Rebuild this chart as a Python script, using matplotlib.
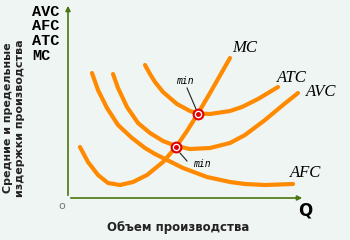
import numpy as np
from matplotlib import pyplot as plt

# curves (Q, cost)
mc_q = [12, 20, 30, 40, 52, 65, 79, 95, 108, 119, 130, 142, 162]
mc_c = [51, 36, 23, 15, 13, 16, 23, 36, 51, 67, 84.5, 105, 140]

afc_q = [24, 30, 39, 50, 64, 77, 87, 95, 115, 139, 162, 177, 197, 225]
afc_c = [125, 108, 90, 73, 60, 50, 44, 40, 30, 21, 16, 14, 13, 14]

avc_q = [45, 50, 59, 70, 82, 95, 108, 122, 142, 162, 177, 197, 215, 230]
avc_c = [124, 110, 91, 75, 65, 57, 52, 49, 50, 55, 63, 78, 93, 105]

atc_q = [77, 82, 87, 95, 109, 122, 130, 142, 162, 174, 190, 210]
atc_c = [133, 124, 116, 106, 94, 87, 84.5, 84, 87, 91, 99, 111]

min_q = [130, 108]
min_c = [84.5, 51]

left_labels = ["AVC", "AFC", "ATC", "MC"]

orange = "#ff8a00"
axis_col = "#4a7510"
bg = "#eff5f3"

fig = plt.figure(figsize=(3.5, 2.4), dpi=100)
fig.patch.set_facecolor(bg)
ax = fig.add_axes([0, 0, 1, 1])
ax.set_facecolor(bg)
ax.set_xlim(-68, 282)
ax.set_ylim(-42, 198)
ax.axis("off")

# axes with arrows
ax.annotate("", xy=(0, 195), xytext=(0, 0),
            arrowprops=dict(arrowstyle="-|>", color=axis_col, lw=1.2, mutation_scale=7))
ax.annotate("", xy=(237, 0), xytext=(0, 0),
            arrowprops=dict(arrowstyle="-|>", color=axis_col, lw=1.2, mutation_scale=7))

for q, c in [(mc_q, mc_c), (afc_q, afc_c), (avc_q, avc_c), (atc_q, atc_c)]:
    ax.plot(q, c, color=orange, lw=3, solid_capstyle="round", solid_joinstyle="round")

ax.plot(min_q, min_c, "o", ms=7, mfc="white", mec="#e00000", mew=1.5, zorder=5)
ax.plot(min_q, min_c, "o", ms=2.5, color="#e00000", zorder=6)

# min annotations
ax.plot([119, 128], [110, 89], color="#222222", lw=0.8)
ax.plot([112, 119], [45, 37], color="#222222", lw=0.8)
ax.text(117, 117, "min", fontsize=7, family="DejaVu Sans Mono", style="italic",
        ha="center", va="center")
ax.text(134, 34, "min", fontsize=7, family="DejaVu Sans Mono", style="italic",
        ha="center", va="center")

serif = dict(family="Liberation Serif", style="italic", fontsize=12, va="center")
ax.text(164, 150, "MC", **serif)
ax.text(209, 120, "ATC", **serif)
ax.text(238, 106, "AVC", **serif)
ax.text(222, 25, "AFC", **serif)

for i, lab in enumerate(left_labels):
    ax.text(-36, 186 - i * 14.5, lab, family="Liberation Mono", weight="bold",
            fontsize=11, va="center", ha="left")

ax.text(-60, 80, "Средние и предельные", rotation=90, fontsize=8, weight="bold",
        ha="center", va="center", color="#222222")
ax.text(-48, 80, "издержки производства", rotation=90, fontsize=8, weight="bold",
        ha="center", va="center", color="#222222")

ax.text(-6, -8, "o", fontsize=8, color="#777777", ha="center", va="center")
ax.text(237, -12, "Q", fontsize=12, weight="bold", ha="center", va="center")
ax.text(110, -30, "Объем производства", fontsize=8.5, weight="bold",
        ha="center", va="center", color="#222222")

fig.savefig("out.png", dpi=100, facecolor=bg)
